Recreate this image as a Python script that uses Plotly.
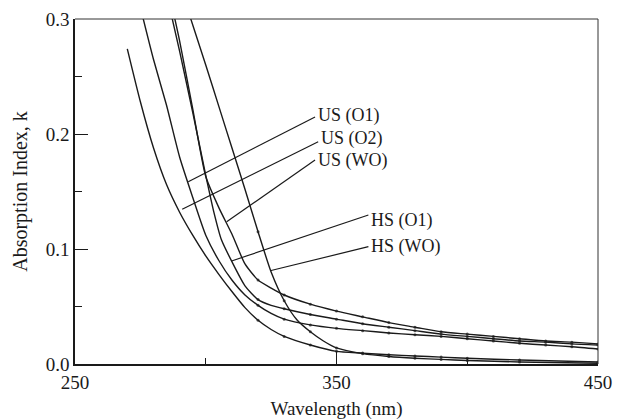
import plotly.graph_objects as go

# ---- data (wavelength nm, absorption index k) ----
us_o2_x = [270, 275, 280, 285, 290, 295, 300, 305, 310, 315, 320, 325, 330, 340, 350, 360, 370, 380, 390, 400, 420, 450]
us_o2_k = [0.274, 0.228, 0.188, 0.156, 0.132, 0.112, 0.094, 0.078, 0.063, 0.049, 0.038, 0.030, 0.024, 0.0165, 0.011, 0.0095, 0.008, 0.007, 0.006, 0.005, 0.0035, 0.0018]

us_o1_x = [276, 280, 285, 290, 295, 300, 305, 310, 315, 320, 325, 330, 340, 350, 360, 370, 380, 390, 400, 410, 420, 430, 440, 450]
us_o1_k = [0.301, 0.265, 0.225, 0.180, 0.145, 0.112, 0.090, 0.073, 0.060, 0.051, 0.044, 0.039, 0.034, 0.031, 0.029, 0.027, 0.0255, 0.024, 0.022, 0.020, 0.018, 0.0165, 0.015, 0.013]

us_wo_x = [288, 290, 295, 300, 305, 310, 315, 320, 325, 330, 340, 350, 360, 370, 380, 390, 400, 410, 420, 430, 440, 450]
us_wo_k = [0.302, 0.281, 0.222, 0.163, 0.136, 0.113, 0.087, 0.073, 0.066, 0.060, 0.052, 0.046, 0.041, 0.036, 0.032, 0.028, 0.026, 0.024, 0.022, 0.020, 0.019, 0.0175]

hs_o1_x = [287, 290, 295, 300, 303, 306, 310, 315, 320, 325, 330, 340, 350, 360, 370, 380, 390, 400, 410, 420, 430, 440, 450]
hs_o1_k = [0.302, 0.272, 0.219, 0.164, 0.133, 0.108, 0.089, 0.068, 0.056, 0.051, 0.048, 0.043, 0.039, 0.035, 0.032, 0.029, 0.026, 0.024, 0.022, 0.020, 0.019, 0.0175, 0.0165]

hs_wo_x = [294, 300, 305, 310, 315, 320, 325, 330, 335, 340, 345, 350, 360, 370, 380, 390, 400, 420, 450]
hs_wo_k = [0.302, 0.260, 0.224, 0.188, 0.152, 0.115, 0.080, 0.055, 0.038, 0.028, 0.020, 0.014, 0.009, 0.0065, 0.005, 0.004, 0.003, 0.0018, 0.0007]

series = [
    ("US (O2)", us_o2_x, us_o2_k),
    ("US (O1)", us_o1_x, us_o1_k),
    ("US (WO)", us_wo_x, us_wo_k),
    ("HS (O1)", hs_o1_x, hs_o1_k),
    ("HS (WO)", hs_wo_x, hs_wo_k),
]

# label texts, leader start (on curve) and leader end (at label)
label_names = ["US (O1)", "US (O2)", "US (WO)", "HS (O1)", "HS (WO)"]
leader_from_x = [293.3, 291.0, 308.0, 309.9, 324.6]
leader_from_k = [0.1585, 0.1345, 0.1237, 0.0896, 0.0811]
leader_to_x = [341.8, 343.0, 341.8, 362.2, 362.2]
leader_to_k = [0.2148, 0.1933, 0.1774, 0.1296, 0.1020]
label_k = [0.2165, 0.1960, 0.1770, 0.1245, 0.1025]

x_ticks = [250, 350, 450]
y_ticks = [0.0, 0.1, 0.2, 0.3]

FONT = "Liberation Serif, Times New Roman, serif"
INK = "#1a1a1a"

fig = go.Figure()
for name, xs, ks in series:
    sizes = [3 if (x % 10 == 0 and x >= 320) else 0 for x in xs]
    fig.add_trace(go.Scatter(
        x=xs, y=ks, mode="lines+markers", name=name,
        line=dict(color=INK, width=1.4, shape="spline", smoothing=0.6),
        marker=dict(size=sizes, color=INK, line=dict(width=0)),
        cliponaxis=True, showlegend=False,
    ))

for i, name in enumerate(label_names):
    fig.add_shape(type="line", xref="x", yref="y",
                  x0=leader_from_x[i], y0=leader_from_k[i],
                  x1=leader_to_x[i], y1=leader_to_k[i],
                  line=dict(color=INK, width=1.2))
    fig.add_annotation(x=leader_to_x[i], y=label_k[i], xref="x", yref="y",
                       text=name, showarrow=False, xanchor="left", yanchor="middle",
                       xshift=1, font=dict(family=FONT, size=18, color=INK))

# thin top and right frame lines
fig.add_shape(type="line", xref="x domain", yref="y domain", x0=0, x1=1, y0=1, y1=1,
              line=dict(color="#333", width=1))
fig.add_shape(type="line", xref="x domain", yref="y domain", x0=1, x1=1, y0=0, y1=1,
              line=dict(color="#333", width=1))

fig.update_layout(
    width=623, height=420,
    margin=dict(l=75, r=25, t=19, b=56, autoexpand=False),
    paper_bgcolor="white", plot_bgcolor="white",
    font=dict(family=FONT, size=19, color=INK),
    xaxis=dict(
        range=[250, 450], tickvals=x_ticks, ticktext=[str(v) for v in x_ticks],
        ticks="inside", ticklen=13, tickwidth=1.2, tickcolor=INK,
        ticklabelstandoff=0, automargin=False,
        minor=dict(dtick=50, tick0=250, ticks="inside", ticklen=6, tickwidth=1.2, tickcolor=INK),
        showline=True, linecolor=INK, linewidth=2, showgrid=False, zeroline=False,
        title=dict(text="Wavelength (nm)", standoff=14, font=dict(family=FONT, size=19)),
    ),
    yaxis=dict(
        range=[0, 0.3], tickvals=y_ticks, ticktext=["0.0", "0.1", "0.2", "0.3"],
        ticks="inside", ticklen=13, tickwidth=1.2, tickcolor=INK,
        automargin=False,
        minor=dict(dtick=0.05, tick0=0, ticks="inside", ticklen=7, tickwidth=1.2, tickcolor=INK),
        showline=True, linecolor=INK, linewidth=1.5, showgrid=False, zeroline=False,
        title=dict(text="Absorption Index, k", standoff=13, font=dict(family=FONT, size=20)),
    ),
)

fig.write_html("out.html")
